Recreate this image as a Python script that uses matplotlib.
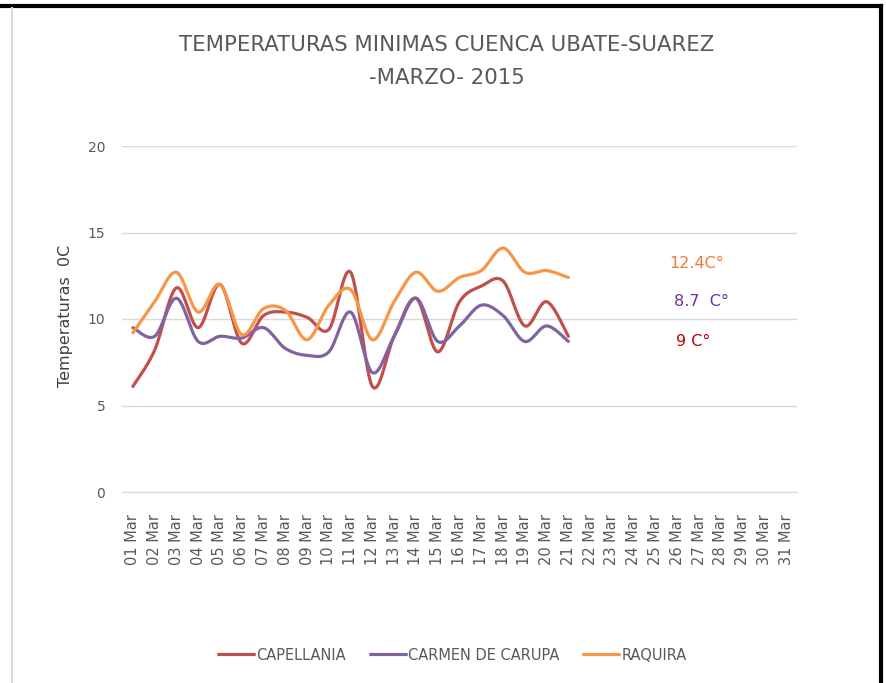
import numpy as np
import matplotlib
matplotlib.use("Agg")
import matplotlib.pyplot as plt
from matplotlib.lines import Line2D
from matplotlib import font_manager

dias = ["%02d Mar" % d for d in range(1, 32)]

capellania = [6.1, 8.2, 11.8, 9.5, 12.0, 8.6, 10.2, 10.4, 10.1, 9.4, 12.7,
              6.1, 9.0, 11.2, 8.1, 11.0, 11.9, 12.2, 9.6, 11.0, 9.0]
carmen = [9.5, 9.0, 11.2, 8.7, 9.0, 8.9, 9.5, 8.3, 7.9, 8.1, 10.4,
          6.9, 9.0, 11.2, 8.7, 9.6, 10.8, 10.2, 8.7, 9.6, 8.7]
raquira = [9.2, 11.0, 12.7, 10.4, 12.0, 9.1, 10.6, 10.5, 8.8, 10.8, 11.7,
           8.8, 11.0, 12.7, 11.6, 12.4, 12.8, 14.1, 12.7, 12.8, 12.4]

series = [("CAPELLANIA", capellania, "#C0504D"),
          ("CARMEN DE CARUPA", carmen, "#8064A2"),
          ("RAQUIRA", raquira, "#F79646")]

notas = [("12.4C°", 24.63, 13.2, "#ED7D31"),
         ("8.7  C°", 24.86, 11.0, "#7030A0"),
         ("9 C°", 24.95, 8.7, "#C00000")]

# fuente angosta si existe
nombres = {f.name for f in font_manager.fontManager.ttflist}
if "DejaVu Sans Condensed" in nombres:
    angosta = ["DejaVu Sans Condensed", "DejaVu Sans"]
    tam_tit = 17
    tam_leg = 11.5
else:
    angosta = ["DejaVu Sans"]
    tam_tit = 15.3
    tam_leg = 10.5


def suave(y, n=30):
    # curva suavizada tipo Excel (bezier con tangentes catmull-rom)
    x = np.arange(len(y), dtype=float)
    y = np.asarray(y, dtype=float)
    px = np.concatenate([[x[0]], x, [x[-1]]])
    py = np.concatenate([[y[0]], y, [y[-1]]])
    xs, ys = [], []
    t = np.linspace(0, 1, n)
    for i in range(len(y) - 1):
        p0 = np.array([px[i + 1], py[i + 1]])
        p3 = np.array([px[i + 2], py[i + 2]])
        c1 = p0 + (np.array([px[i + 2], py[i + 2]]) - np.array([px[i], py[i]])) / 6
        c2 = p3 - (np.array([px[i + 3], py[i + 3]]) - np.array([px[i + 1], py[i + 1]])) / 6
        b = ((1 - t) ** 3)[:, None] * p0 + (3 * (1 - t) ** 2 * t)[:, None] * c1 \
            + (3 * (1 - t) * t ** 2)[:, None] * c2 + (t ** 3)[:, None] * p3
        xs.append(b[:, 0])
        ys.append(b[:, 1])
    return np.concatenate(xs), np.concatenate(ys)


fig = plt.figure(figsize=(8.87, 6.83), dpi=100)
ax = fig.add_axes([122 / 887, 1 - 492 / 683, 675 / 887, 346 / 683])

for nombre, vals, col in series:
    xs, ys = suave(vals)
    ax.plot(xs, ys, color=col, lw=2.3, solid_capstyle="round", label=nombre)

ax.set_xlim(-0.5, len(dias) - 0.5)
ax.set_ylim(0, 20)
ax.set_yticks([0, 5, 10, 15, 20])
ax.set_xticks(range(len(dias)))
ax.set_xticklabels(dias, rotation=90, fontsize=10.5, color="#595959")
ax.tick_params(axis="y", labelsize=10, colors="#595959", length=0, pad=12)
ax.tick_params(axis="x", length=0, pad=16)
ax.grid(axis="y", color="#D9D9D9", lw=1)
ax.set_axisbelow(True)
for s in ["top", "right", "left"]:
    ax.spines[s].set_visible(False)
ax.spines["bottom"].set_color("#D9D9D9")

ax.set_ylabel("Temperaturas  0C", fontsize=11.5, color="#404040")
ax.yaxis.set_label_coords(-0.072, 0.509)

for texto, xv, yv, col in notas:
    ax.text(xv, yv, texto, fontsize=11.5, color=col, family=angosta, va="center")

fig.text(0.504, 1 - 45 / 683, "TEMPERATURAS MINIMAS CUENCA UBATE-SUAREZ",
         ha="center", va="center", fontsize=tam_tit, color="#595959", family=angosta)
fig.text(0.504, 1 - 78 / 683, "-MARZO- 2015",
         ha="center", va="center", fontsize=tam_tit, color="#595959", family=angosta)

leg = fig.legend(loc="center", bbox_to_anchor=(0.51, 1 - 655 / 683), ncol=3,
                 frameon=False, handlelength=2.5, handletextpad=0.15,
                 columnspacing=1.6, prop={"family": angosta, "size": tam_leg})
for t in leg.get_texts():
    t.set_color("#595959")

# marco de la captura
fig.add_artist(Line2D([0, 881 / 887], [1 - 6 / 683, 1 - 6 / 683], color="black", lw=3))
fig.add_artist(Line2D([881 / 887, 881 / 887], [0, 1 - 6 / 683], color="black", lw=3))
fig.add_artist(Line2D([12 / 887, 12 / 887], [0, 1 - 8 / 683], color="#D9D9D9", lw=1.5))

fig.savefig("out.png", dpi=100)
